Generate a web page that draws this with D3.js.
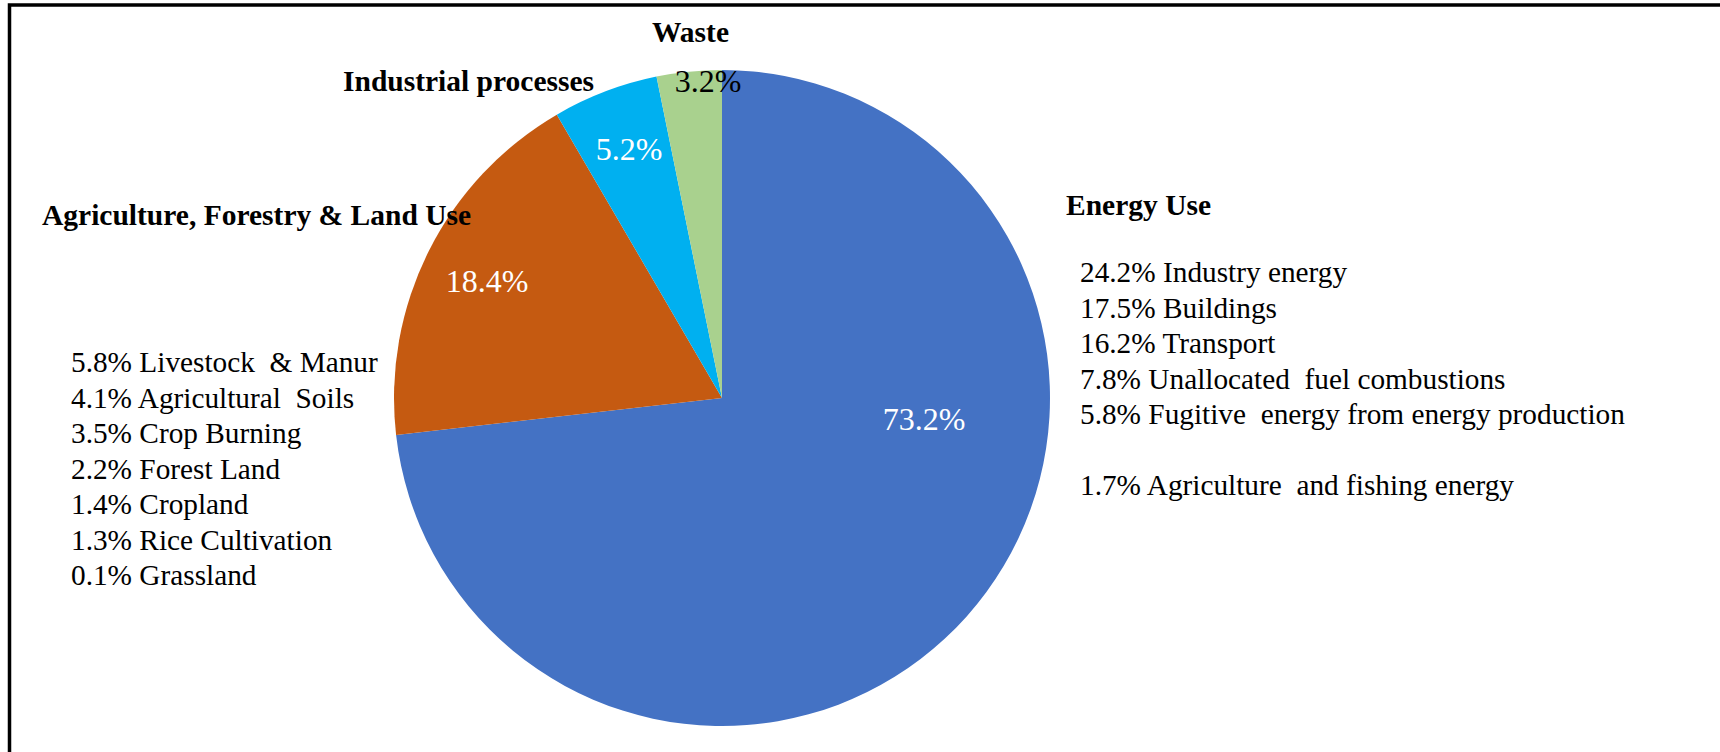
<!DOCTYPE html>
<html>
<head>
<meta charset="utf-8">
<script src="https://cdn.jsdelivr.net/npm/d3@7"></script>
<style>
  html, body { margin: 0; padding: 0; background: #fff; }
  svg { display: block; }
  text { font-family: "Liberation Serif", "Times New Roman", serif; }
</style>
</head>
<body>
<svg id="chart" width="1720" height="752"></svg>
<script>
// Greenhouse gas emissions by sector (%)
const sectors = ["Energy Use", "Agriculture, Forestry & Land Use", "Industrial processes", "Waste"];
const shares = [73.2, 18.4, 5.2, 3.2];
const sectorColors = ["#4472C4", "#C55A11", "#00B0F0", "#A9D18E"];
const valueLabelColors = ["#ffffff", "#ffffff", "#ffffff", "#000000"];

// Breakdown of Energy Use
const energyItems = ["Industry energy", "Buildings", "Transport", "Unallocated  fuel combustions",
                     "Fugitive  energy from energy production", "", "Agriculture  and fishing energy"];
const energyValues = [24.2, 17.5, 16.2, 7.8, 5.8, null, 1.7];

// Breakdown of Agriculture, Forestry & Land Use
const afoluItems = ["Livestock  & Manur", "Agricultural  Soils", "Crop Burning", "Forest Land",
                    "Cropland", "Rice Cultivation", "Grassland"];
const afoluValues = [5.8, 4.1, 3.5, 2.2, 1.4, 1.3, 0.1];

// Layout
const W = 1720, H = 752;
const cx = 722, cy = 398, R = 328;
// value label anchor (middle, baseline) for each slice
const valueLabelPos = [[924, 430], [487, 292], [629, 160], [708, 92]];
// sector name label anchor (start, baseline)
const nameLabelPos = [[1066, 215], [42, 225], [343, 91], [652, 42]];
const rowStep = 35.5;

const svg = d3.select("#chart");

// frame
svg.append("path")
  .attr("d", `M9.5,${H + 10} L9.5,5 L${W + 10},5`)
  .attr("fill", "none")
  .attr("stroke", "#000")
  .attr("stroke-width", 3.5);

// pie
const pie = d3.pie().sort(null).value(d => d)(shares);
const arc = d3.arc().innerRadius(0).outerRadius(R);

const g = svg.append("g").attr("transform", `translate(${cx},${cy})`);
g.selectAll("path.slice")
  .data(pie)
  .join("path")
  .attr("class", "slice")
  .attr("d", arc)
  .attr("fill", (d, i) => sectorColors[i]);

// slice value labels
svg.selectAll("text.value")
  .data(pie)
  .join("text")
  .attr("class", "value")
  .attr("x", (d, i) => valueLabelPos[i][0])
  .attr("y", (d, i) => valueLabelPos[i][1])
  .attr("text-anchor", "middle")
  .attr("font-size", 32)
  .attr("fill", (d, i) => valueLabelColors[i])
  .text(d => d3.format(".1f")(d.data) + "%");

// sector names
svg.selectAll("text.sector")
  .data(sectors)
  .join("text")
  .attr("class", "sector")
  .attr("x", (d, i) => nameLabelPos[i][0])
  .attr("y", (d, i) => nameLabelPos[i][1])
  .attr("font-size", 29.5)
  .attr("font-weight", "bold")
  .attr("fill", "#000")
  .text(d => d);

// breakdown lists
function drawList(items, values, x, y0) {
  svg.append("g").selectAll("text")
    .data(items.map((name, i) => ({ name, v: values[i] })))
    .join("text")
    .attr("x", x)
    .attr("y", (d, i) => y0 + i * rowStep)
    .attr("font-size", 29.3)
    .attr("fill", "#000")
    .style("white-space", "pre")
    .text(d => d.v == null ? "" : d3.format(".1f")(d.v) + "% " + d.name);
}
drawList(energyItems, energyValues, 1080, 282);
drawList(afoluItems, afoluValues, 71, 372);
</script>
</body>
</html>
